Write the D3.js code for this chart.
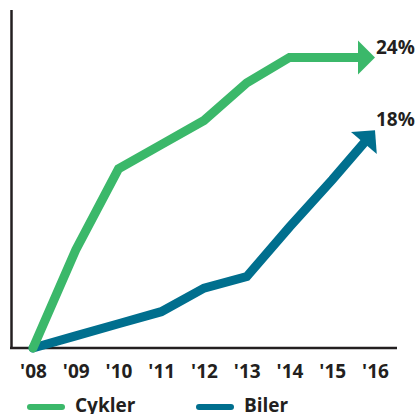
<!DOCTYPE html>
<html lang="da">
<head>
    <meta charset="UTF-8">
    <script src="https://d3js.org/d3.v7.min.js"></script>
    <title>Cykler og biler</title>
    <style>
        body { margin: 0; background: #fff; }
        text {
            fill: #231f20;
            font-family: 'Open Sans', sans-serif;
            font-weight: 700;
            font-size: 19px;
        }
    </style>
</head>
<body>
<svg height="414" width="416"></svg>
<script>
    const years = [2008, 2009, 2010, 2011, 2012, 2013, 2014, 2015, 2016];
    const tickLabels = ["'08", "'09", "'10", "'11", "'12", "'13", "'14", "'15", "'16"];
    const cykler = [0, 8.1, 14.8, 16.8, 18.8, 21.9, 24, 24, 24];
    const biler = [0, 1.0, 2.0, 3.0, 4.95, 5.9, 10.0, 13.9, 18];
    const seriesNames = ["Cykler", "Biler"];
    const endLabels = ["24%", "18%"];

    const green = "#3bb86a", blue = "#006f8e", ink = "#231f20";

    const x = d3.scaleLinear().domain([2008, 2016]).range([33, 375]);
    const y = d3.scaleLinear().domain([0, 24]).range([348, 57.5]);

    const svg = d3.select("svg");

    // axis frame
    svg.append("line")
            .attr("x1", 11.5).attr("x2", 11.5).attr("y1", 10).attr("y2", 349)
            .attr("stroke", ink).attr("stroke-width", 2.5);
    svg.append("line")
            .attr("x1", 10).attr("x2", 397).attr("y1", y(0)).attr("y2", y(0))
            .attr("stroke", ink).attr("stroke-width", 2.5);

    const xAxis = d3.axisBottom(x)
            .tickValues(years)
            .tickSize(0)
            .tickFormat((d, i) => tickLabels[i]);
    const gx = svg.append("g").attr("transform", `translate(0,${y(0)})`).call(xAxis);
    gx.select(".domain").remove();
    gx.selectAll("text").attr("y", 30).attr("dy", null)
            .style("font-family", "'Open Sans', sans-serif")
            .style("font-size", "19px").style("font-weight", 700).attr("fill", ink);

    drawSeries(biler, blue, endLabels[1]);
    drawSeries(cykler, green, endLabels[0]);

    function drawSeries(values, color, label) {
        const pts = values.map((v, i) => [x(years[i]), y(v)]);
        const tip = pts[pts.length - 1], prev = pts[pts.length - 2];
        const dx = tip[0] - prev[0], dy = tip[1] - prev[1];
        const len = Math.hypot(dx, dy), ux = dx / len, uy = dy / len;
        const L = 17, W = 17;
        const base = [tip[0] - L * ux, tip[1] - L * uy];
        const linePts = pts.slice(0, -1).concat([[base[0] + 2 * ux, base[1] + 2 * uy]]);

        svg.append("path")
                .attr("d", d3.line()(linePts))
                .attr("fill", "none")
                .attr("stroke", color)
                .attr("stroke-width", 9)
                .attr("stroke-linejoin", "miter")
                .attr("stroke-linecap", "round");

        svg.append("path")
                .attr("d", d3.line()([
                    tip,
                    [base[0] - W * uy, base[1] + W * ux],
                    [base[0] + W * uy, base[1] - W * ux]
                ]) + "Z")
                .attr("fill", color);

        svg.append("text")
                .attr("x", tip[0] + 1)
                .attr("y", tip[1] - 4)
                .text(label);
    }

    // legend
    const legend = svg.append("g").attr("transform", "translate(0,407)");
    [green, blue].forEach((c, i) => {
        const g = legend.append("g").attr("transform", `translate(${30 + i * 169},0)`);
        g.append("line").attr("x1", 0).attr("x2", 32).attr("y1", 0).attr("y2", 0)
                .attr("stroke", c).attr("stroke-width", 6).attr("stroke-linecap", "round");
        g.append("text").attr("x", 45).attr("y", 5).text(seriesNames[i]);
    });
</script>
</body>
</html>
